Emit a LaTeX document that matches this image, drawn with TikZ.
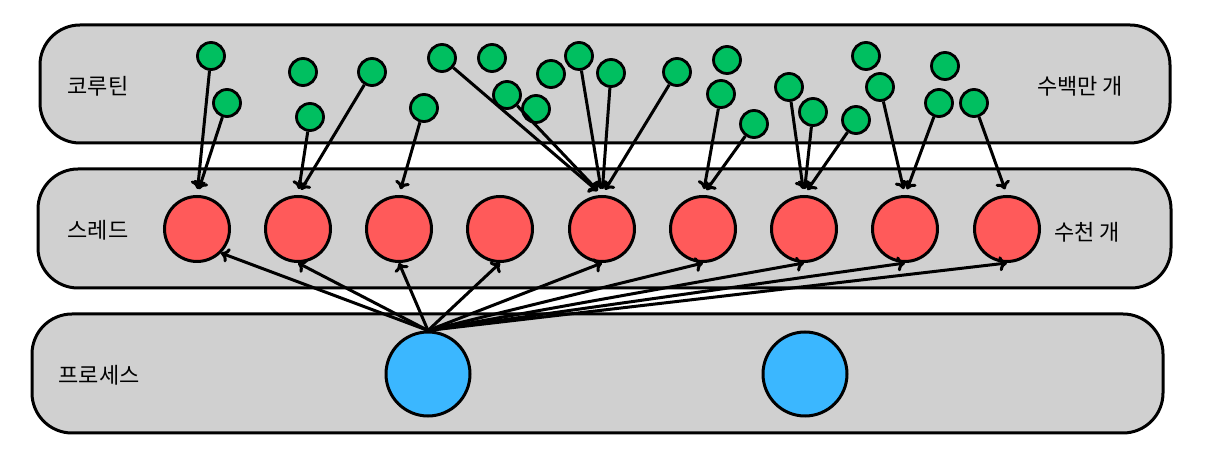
\documentclass[tikz,border=0pt]{standalone}
\usepackage{fontspec}
\setmainfont{Noto Sans CJK KR}
\usetikzlibrary{arrows.meta}
\definecolor{bandgray}{HTML}{D0D0D0}
\definecolor{threadred}{HTML}{FF5A5A}
\definecolor{procblue}{HTML}{3BB7FF}
\definecolor{corogreen}{HTML}{00BF60}
\begin{document}
\begin{tikzpicture}[x=0.5pt, y=-0.5pt,
    band/.style={draw, line width=1.5pt, fill=bandgray, rounded corners=20pt},
    thread/.style={circle, draw, line width=1.5pt, fill=threadred, minimum size=32.5pt, inner sep=0pt},
    proc/.style={circle, draw, line width=1.5pt, fill=procblue, minimum size=42pt, inner sep=0pt},
    coro/.style={circle, draw, line width=1.4pt, fill=corogreen, minimum size=13.5pt, inner sep=0pt},
    lbl/.style={font=\fontsize{11}{13}\selectfont},
    arr/.style={-{To[length=4pt, width=7.5pt]}, line width=1.5pt}]
    \useasboundingbox (0,0) rectangle (1232,464);

    % Bands
    \draw[band] (40,25) rectangle (1170,143);
    \draw[band] (38,169) rectangle (1171,288);
    \draw[band] (32,314) rectangle (1163,433);

    % Labels
    \node[lbl] (lco) at (98,86) {코루틴};
    \node[lbl] (lcon) at (1080,86) {수백만 개};
    \node[lbl] (lth) at (98,230) {스레드};
    \node[lbl] (lthn) at (1087,232) {수천 개};
    \node[lbl] (lpr) at (99,375) {프로세스};

    % Processes
    \node[proc] (pr1) at (428,374) {};
    \node[proc] (pr2) at (805,374) {};

    % Threads
    \foreach \x [count=\i] in {197,298,399,500,602,703,804,905,1007}
        \node[thread] (th\i) at (\x,229) {};

    % Coroutines
    \foreach \x/\y [count=\i] in {211/56, 227/103, 303/72, 310/117, 372/72,
        424/108, 442/58, 492/58, 507/95, 536/109, 551/74, 579/56, 611/73,
        677/72, 727/60, 721/94, 754/124, 789/87, 813/112, 856/120, 866/56,
        880/87, 945/66, 939/103, 974/103}
        \node[coro] (co\i) at (\x,\y) {};

    % Coroutine -> thread
    \foreach \a/\b in {1/1, 2/1, 4/2, 5/2, 6/3, 7/5, 9/5, 12/5, 13/5, 14/5,
        16/6, 17/6, 18/7, 19/7, 20/7, 22/8, 24/8, 25/9}
        \draw[arr, shorten >=3pt] (co\a) -- (th\b.north);

    % Process -> thread
    \draw[arr] (pr1.north) -- (th1.south east);
    \foreach \b in {2,...,9}
        \draw[arr] (pr1.north) -- (th\b.south);
\end{tikzpicture}
\end{document}
